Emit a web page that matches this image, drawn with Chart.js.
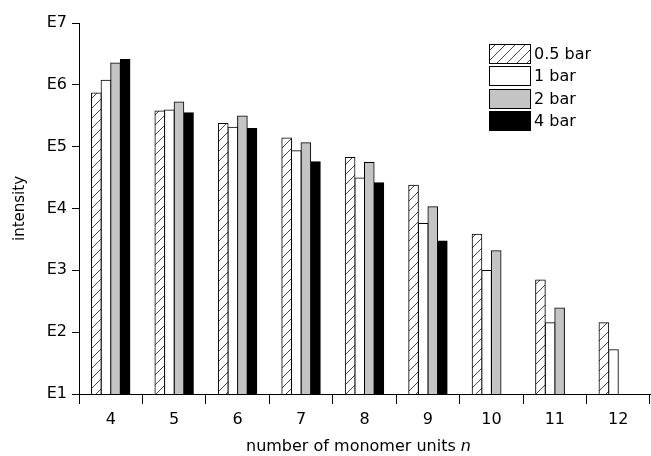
<!DOCTYPE html>
<html><head><meta charset="utf-8">
<script src="https://cdn.jsdelivr.net/npm/chart.js@4.4.1/dist/chart.umd.min.js"></script>
<style>html,body{margin:0;padding:0;background:#fff}#wrap{width:651px;height:456px}</style>
</head><body><div id="wrap"><canvas id="c" width="651" height="456"></canvas></div>
<script>
const categories = ['4','5','6','7','8','9','10','11','12'];
const seriesNames = ['0.5 bar','1 bar','2 bar','4 bar'];
const p05 = [7.4e5, 3.76e5, 2.38e5, 1.38e5, 6.7e4, 2.37e4, 3.84e3, 7.0e2, 1.42e2];
const p1  = [1.19e6, 3.9e5, 2.07e5, 8.6e4, 3.1e4, 5.7e3, 9.9e2, 1.42e2, 52];
const p2  = [2.26e6, 5.3e5, 3.12e5, 1.16e5, 5.57e4, 1.07e4, 2.08e3, 2.45e2, null];
const p4  = [2.57e6, 3.52e5, 1.97e5, 5.7e4, 2.61e4, 2.99e3, null, null, null];
const yTickValues = [1e1, 1e2, 1e3, 1e4, 1e5, 1e6, 1e7];
const yTickLabels = ['E1','E2','E3','E4','E5','E6','E7'];
const xTitleMain = 'number of monomer units ';
const xTitleItalic = 'n';
const yTitle = 'intensity';

const FONT = "'DejaVu Sans', 'Liberation Sans', Arial, sans-serif";

function makeHatch() {
  const s = 10;
  const pc = document.createElement('canvas');
  pc.width = s; pc.height = s;
  const g = pc.getContext('2d');
  g.fillStyle = '#fff'; g.fillRect(0, 0, s, s);
  g.strokeStyle = '#333'; g.lineWidth = 0.9;
  g.beginPath();
  g.moveTo(0, s); g.lineTo(s, 0);
  g.moveTo(-2, 2); g.lineTo(2, -2);
  g.moveTo(s - 2, s + 2); g.lineTo(s + 2, s - 2);
  g.stroke();
  return document.getElementById('c').getContext('2d').createPattern(pc, 'repeat');
}
const hatch = makeHatch();
const fills = [hatch, '#ffffff', '#c4c4c4', '#000000'];
const seriesData = [p05, p1, p2, p4];

const overlay = {
  id: 'overlay',
  afterDraw(chart) {
    const ctx = chart.ctx, ca = chart.chartArea;
    ctx.save();
    ctx.fillStyle = '#000';
    ctx.textBaseline = 'middle';
    ctx.font = '16px ' + FONT;
    const w1 = ctx.measureText(xTitleMain).width;
    ctx.font = 'italic 16px ' + FONT;
    const w2 = ctx.measureText(xTitleItalic).width;
    const cx = (ca.left + ca.right) / 2 - 6;
    const x0 = cx - (w1 + w2) / 2;
    ctx.textAlign = 'left';
    ctx.font = '16px ' + FONT;
    ctx.fillText(xTitleMain, x0, 447);
    ctx.font = 'italic 16px ' + FONT;
    ctx.fillText(xTitleItalic, x0 + w1, 447);
    const bx = 489, by = 43.5, bw = 41, bh = 19, step = 22.6;
    chart.data.datasets.forEach((ds, i) => {
      const y = Math.round(by + step * i) + 0.5;
      ctx.fillStyle = ds.backgroundColor;
      ctx.fillRect(bx + 0.5, y, bw, bh);
      ctx.strokeStyle = '#000'; ctx.lineWidth = 1;
      ctx.strokeRect(bx + 0.5, y, bw, bh);
      ctx.fillStyle = '#000';
      ctx.font = '16px ' + FONT;
      ctx.textAlign = 'left';
      ctx.textBaseline = 'middle';
      ctx.fillText(ds.label, bx + bw + 4, y + bh / 2 + 0.5);
    });
    ctx.restore();
  }
};

new Chart(document.getElementById('c'), {
  type: 'bar',
  data: {
    labels: categories,
    datasets: seriesNames.map((name, i) => ({
      label: name,
      data: seriesData[i],
      backgroundColor: fills[i],
      borderColor: '#000',
      borderWidth: 1,
      inflateAmount: 0.5,
      categoryPercentage: 0.605,
      barPercentage: 1.0
    }))
  },
  options: {
    responsive: false,
    animation: false,
    devicePixelRatio: 1,
    layout: { padding: { top: 23, right: 1, left: 0, bottom: 0 } },
    plugins: { legend: { display: false }, tooltip: { enabled: false } },
    scales: {
      x: {
        grid: { offset: true, drawOnChartArea: false, drawTicks: true, tickLength: 10, color: '#000', lineWidth: 1 },
        border: { display: true, color: '#000', width: 1 },
        ticks: { color: '#000', font: { size: 16, family: FONT }, padding: 6, maxRotation: 0 },
        afterFit(scale) { scale.height = 62; }
      },
      y: {
        type: 'logarithmic',
        min: 10, max: 1e7,
        grid: { drawOnChartArea: false, drawTicks: true, tickLength: 7, color: '#000', lineWidth: 1 },
        border: { display: true, color: '#000', width: 1 },
        ticks: {
          color: '#000', font: { size: 16, family: FONT }, padding: 5,
          callback: (v) => { const k = yTickValues.indexOf(v); return k >= 0 ? yTickLabels[k] : ''; }
        },
        afterBuildTicks(scale) { scale.ticks = yTickValues.map(v => ({ value: v })); },
        title: { display: true, text: yTitle, color: '#000', font: { size: 15, family: FONT }, padding: { top: 11, bottom: 0 } },
        afterFit(scale) { scale.width = 79; }
      }
    }
  },
  plugins: [overlay]
});
</script>
</body></html>
